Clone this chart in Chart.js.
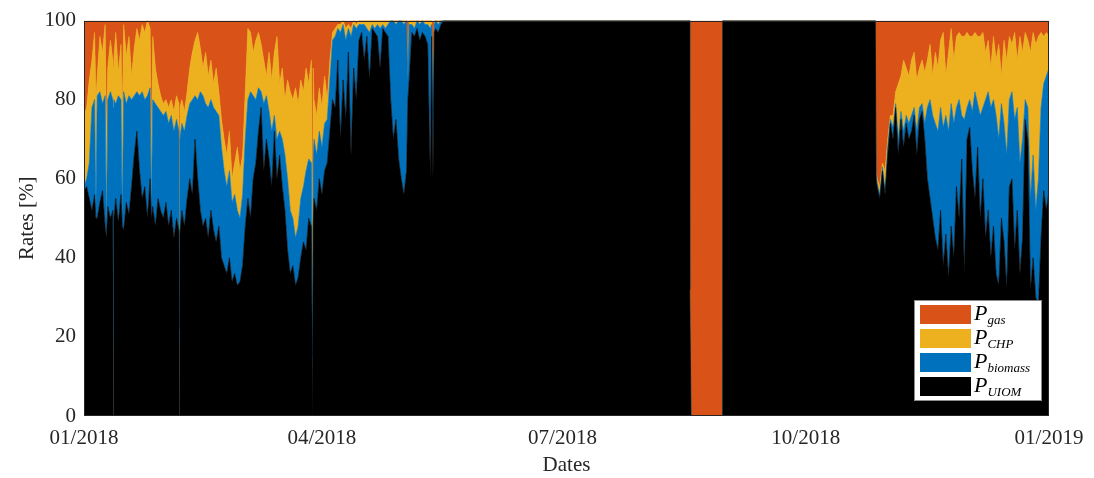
<!DOCTYPE html>
<html>
<head>
<meta charset="utf-8">
<script src="https://cdn.jsdelivr.net/npm/chart.js@4.4.1/dist/chart.umd.min.js"></script>
<style>
  html, body { margin: 0; padding: 0; background: #ffffff; }
  #wrap { position: relative; width: 1094px; height: 478px; }
  #legend {
    position: absolute; left: 914px; top: 300px; width: 126px; height: 99px;
    background: #ffffff; border: 1px solid #8c8c8c; font-family: "Liberation Serif", "DejaVu Serif", serif;
  }
  .row { position: absolute; left: 5px; height: 19px; }
  .sw { position: absolute; left: 0; top: 0; width: 51px; height: 19px; }
  .lb { position: absolute; left: 54px; top: -4px; font-style: italic; font-size: 22px; color: #000; white-space: nowrap; line-height: 24px; }
  .lb sub { font-size: 13px; font-style: italic; vertical-align: -4px; }
</style>
</head>
<body>
<div id="wrap">
  <canvas id="c" width="1094" height="478"></canvas>
  <div id="legend"></div>
</div>
<script>
// ---- data (day of 2018, cumulative upper edge of each stacked band, %) ----
const days = [
  0,1,2,3,4,4.5,5,6,7,8,8.5,9,10,10.9,11.1,11.3,
  12,13,14,14.5,15,16,17,18,19,20,21,22,23,24,25,25.5,26,27,28,29,30,31,32,33,34,35,
  35.9,36.1,36.3,37,38,39,40,41,42,43,44,45,46,47,48,49,50,
  51,52,53,54,55,56,57,58,59,60,61,62,63,64,65,66,67,68,69,70,71,72,73,74,75,76,77,78,79,80,81,82,83,84,85,86,
  86.5,86.7,87,88,89,90,91,92,93,
  94,95,96,97,98,99,100,101,102,103,104,105,106,107,108,109,110,111,112,113,114,115,116,117,118,119,120,121,122,
  122.5,123,124,125,126,127,128,129,130,131,131.5,132,132.5,133,134,135,136,
  228.9,229.1,229.6,241.4,241.6,299.3,
  299.6,300,301,302,303,304,305,306,307,308,309,310,311,312,313,314,315,316,317,318,
  319,320,321,322,323,324,325,326,327,328,329,330,331,332,333,334,335,336,337,338,339,340,341,342,343,344,345,346,347,348,349,350,351,352,353,354,355,356,357,358,359,360,361,362,363,364,365
];
const uiomTop = [
  57,58,55,52,56,50,50,54,57,48,45,53,50,52,0,50,
  55,49,56,48,47,54,51,58,66,72,62,55,58,50,60,50,53,48,55,52,50,54,48,52,45,50,
  47,0,46,52,48,55,60,56,70,60,52,48,50,45,52,47,44,
  48,40,38,36,40,34,36,33,34,38,48,55,50,60,64,72,78,62,70,65,58,72,60,66,58,52,42,36,38,33,35,40,44,42,50,48,
  0,48,55,52,60,56,62,64,72,
  80,78,90,70,85,75,92,66,88,80,95,97,90,96,85,98,97,96,88,98,97,96,80,70,75,65,60,56,62,
  80,85,97,96,98,95,97,96,94,60,96,60,97,98,97,99,100,
  100,32,0,0,100,100,
  60,58,55,62,56,66,74,70,78,66,75,68,74,70,72,76,66,75,77,70,
  60,55,50,45,42,52,38,46,35,48,40,58,50,65,36,70,73,62,55,68,50,60,45,52,40,48,36,33,50,44,32,58,60,42,52,36,45,75,70,32,40,30,28,45,57,52,57
];
const biomassTop = [
  58,60,64,78,80,52,81,82,79,81,47,80,82,80,78,80,
  79,81,80,50,82,79,81,80,81,82,81,82,80,81,83,52,80,79,78,77,76,77,74,76,72,75,
  72,22,70,74,72,76,79,80,81,80,82,81,79,78,80,78,77,
  76,68,62,58,62,54,56,52,50,56,70,80,82,81,80,83,82,79,81,77,72,76,70,72,70,66,60,52,50,45,48,55,58,62,65,64,
  15,64,70,66,72,68,74,75,85,
  95,96,98,97,99,95,98,96,99,98,99,99,99,98,97,99,98,99,98,99,98,99,100,100,99,100,100,99,100,
  85,99,99,98,100,99,100,99,99,98,99,75,99,100,99,100,100,
  100,32,0,0,100,100,
  61,59,56,63,57,68,75,73,79,70,77,72,76,74,76,78,72,78,79,74,
  78,80,76,74,72,78,73,76,72,79,74,78,80,76,75,78,80,77,82,79,76,78,80,82,78,80,76,70,79,74,66,80,82,75,78,64,70,80,78,55,66,52,60,78,84,86,88
];
const chpTop = [
  76,78,85,90,97,80,86,96,92,99,70,88,95,90,88,90,
  97,87,94,75,99,91,96,86,93,98,95,99,97,100,98,65,96,88,84,81,79,80,78,80,77,81,
  79,35,78,80,77,82,88,92,95,97,93,88,92,86,90,84,88,
  82,75,70,66,72,60,64,68,62,66,82,98,97,92,95,97,94,90,86,92,85,92,96,84,88,80,85,82,80,83,79,85,82,88,84,90,
  40,88,80,76,83,78,86,80,90,
  97,98,99,99,100,98,99,98,100,99,100,100,100,100,100,100,100,100,100,100,100,100,100,100,100,100,100,100,100,
  88,100,100,100,100,100,100,100,100,100,100,77,100,100,100,100,100,
  100,32,0,0,100,100,
  62,60,58,64,62,70,76,76,82,84,86,90,88,86,90,92,85,88,90,87,
  90,94,86,92,88,95,97,86,92,98,90,96,97,96,96,97,96,96,97,96,96,97,92,95,88,96,90,94,86,95,90,96,94,97,90,96,92,97,95,92,97,94,96,97,96,97,96
];
const tickDays = [0, 90, 181, 273, 365];
const tickLabels = ['01/2018', '04/2018', '07/2018', '10/2018', '01/2019'];
const seriesNames = ['gas', 'CHP', 'biomass', 'UIOM'];
const seriesColors = ['#D95319', '#EDB120', '#0072BD', '#000000'];

const pts = arr => days.map((d, i) => ({ x: d, y: arr[i] }));
const FONT = '"Liberation Serif", "DejaVu Serif", serif';

const ds = (label, arr, color, fill) => ({
  label, data: pts(arr), fill, backgroundColor: color, borderColor: color,
  borderWidth: 0.6, pointRadius: 0, tension: 0
});

const frame = {
  id: 'frame',
  afterDraw(chart) {
    const a = chart.chartArea, ctx = chart.ctx;
    ctx.save();
    ctx.strokeStyle = '#262626';
    ctx.lineWidth = 1;
    ctx.strokeRect(Math.round(a.left) + 0.5, Math.round(a.top) + 0.5, Math.round(a.right - a.left) - 1, Math.round(a.bottom - a.top) - 1);
    ctx.restore();
  }
};

const chart = new Chart(document.getElementById('c'), {
  type: 'line',
  data: {
    datasets: [
      ds('P_UIOM', uiomTop, seriesColors[3], 'origin'),
      ds('P_biomass', biomassTop, seriesColors[2], '-1'),
      ds('P_CHP', chpTop, seriesColors[1], '-1'),
      ds('P_gas', chpTop, seriesColors[0], 'end')
    ]
  },
  options: {
    responsive: false,
    animation: false,
    layout: { padding: { top: 19, right: 45, left: 0, bottom: 0 } },
    plugins: { legend: { display: false }, tooltip: { enabled: false } },
    scales: {
      x: {
        type: 'linear', min: 0, max: 365,
        grid: { display: false, drawTicks: false },
        border: { display: false },
        afterBuildTicks: s => { s.ticks = tickDays.map(v => ({ value: v })); },
        afterFit: s => { s.height = 62; },
        ticks: {
          autoSkip: false, maxRotation: 0, padding: 10,
          color: '#262626', font: { family: FONT, size: 21 },
          callback: v => tickLabels[tickDays.indexOf(v)]
        },
        title: { display: true, text: 'Dates', color: '#262626', font: { family: FONT, size: 21 }, padding: { top: 0, bottom: 0 } }
      },
      y: {
        min: 0, max: 100,
        grid: { display: false, drawTicks: false },
        border: { display: false },
        afterFit: s => { s.width = 84; },
        ticks: { stepSize: 20, padding: 8, color: '#262626', font: { family: FONT, size: 21 } },
        title: { display: true, text: 'Rates [%]', color: '#262626', font: { family: FONT, size: 21 }, padding: { top: 15, bottom: 0 } }
      }
    }
  },
  plugins: [frame]
});

// legend (HTML, built from series names/colours)
const lg = document.getElementById('legend');
const rowTops = [4, 28, 52, 76];
seriesNames.forEach((n, i) => {
  const r = document.createElement('div');
  r.className = 'row';
  r.style.top = rowTops[i] + 'px';
  r.innerHTML = '<div class="sw" style="background:' + seriesColors[i] + '"></div><div class="lb">P<sub>' + n + '</sub></div>';
  lg.appendChild(r);
});
</script>
</body>
</html>
